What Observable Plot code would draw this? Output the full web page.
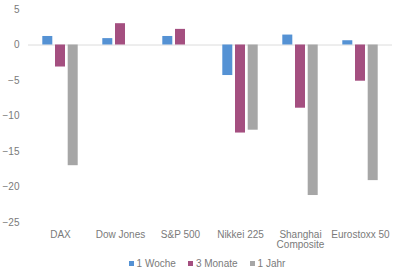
<!DOCTYPE html>
<html><head><meta charset="utf-8">
<script src="https://cdn.jsdelivr.net/npm/d3@7"></script>
<script src="https://cdn.jsdelivr.net/npm/@observablehq/plot@0.6"></script>
<style>
body{margin:0;background:#fff;font-family:"Liberation Sans",Arial,sans-serif;}
#legend{display:flex;justify-content:center;gap:12px;font-size:10px;color:#7a7a7a;margin-top:6px;margin-left:14px;}
#legend span.sw{display:inline-block;width:5px;height:5px;margin-right:3px;vertical-align:1px;}
</style></head>
<body><div id="chart"></div><div id="legend"></div>
<script>
const categories = ["DAX","Dow Jones","S&P 500","Nikkei 225","Shanghai Composite","Eurostoxx 50"];
const woche = [1.2, 0.9, 1.2, -4.3, 1.4, 0.6];
const monate = [-3.1, 3.0, 2.2, -12.4, -8.9, -5.1];
const jahr = [-17.0, null, null, -12.0, -21.2, -19.1];
const seriesNames = ["1 Woche","3 Monate","1 Jahr"];
const colors = ["#5592d4","#a44f80","#a6a6a6"];
const yTicks = [5,0,-5,-10,-15,-20,-25];

const all = [woche, monate, jahr];
const offsets = [-12.7, 0, 12.7];
const marks = [
  Plot.ruleY([0], {stroke:"#dcdcdc", strokeWidth:1})
];
all.forEach((vals, i) => {
  const data = categories.map((c, j) => ({cat:c, v:vals[j]})).filter(d => d.v != null);
  marks.push(Plot.barY(data, {x:"cat", y:"v", fill:colors[i], dx:offsets[i], insetLeft:25, insetRight:25}));
});

const plot = Plot.plot({
  width:400, height:252,
  marginLeft:28, marginRight:8, marginTop:9, marginBottom:30,
  style:{fontFamily:"Liberation Sans, Arial, sans-serif", fontSize:"10px", color:"#7a7a7a", background:"#fff"},
  x:{domain:categories, padding:0, tickSize:0, tickPadding:8, label:null,
     tickFormat:d => d === "Shanghai Composite" ? "Shanghai\nComposite" : d},
  y:{domain:[-25,5], ticks:yTicks, tickSize:0, tickPadding:9, label:null},
  marks
});
document.getElementById("chart").appendChild(plot);

const lg = document.getElementById("legend");
seriesNames.forEach((n, i) => {
  const d = document.createElement("div");
  d.innerHTML = `<span class="sw" style="background:${colors[i]}"></span>${n}`;
  lg.appendChild(d);
});
</script></body></html>
